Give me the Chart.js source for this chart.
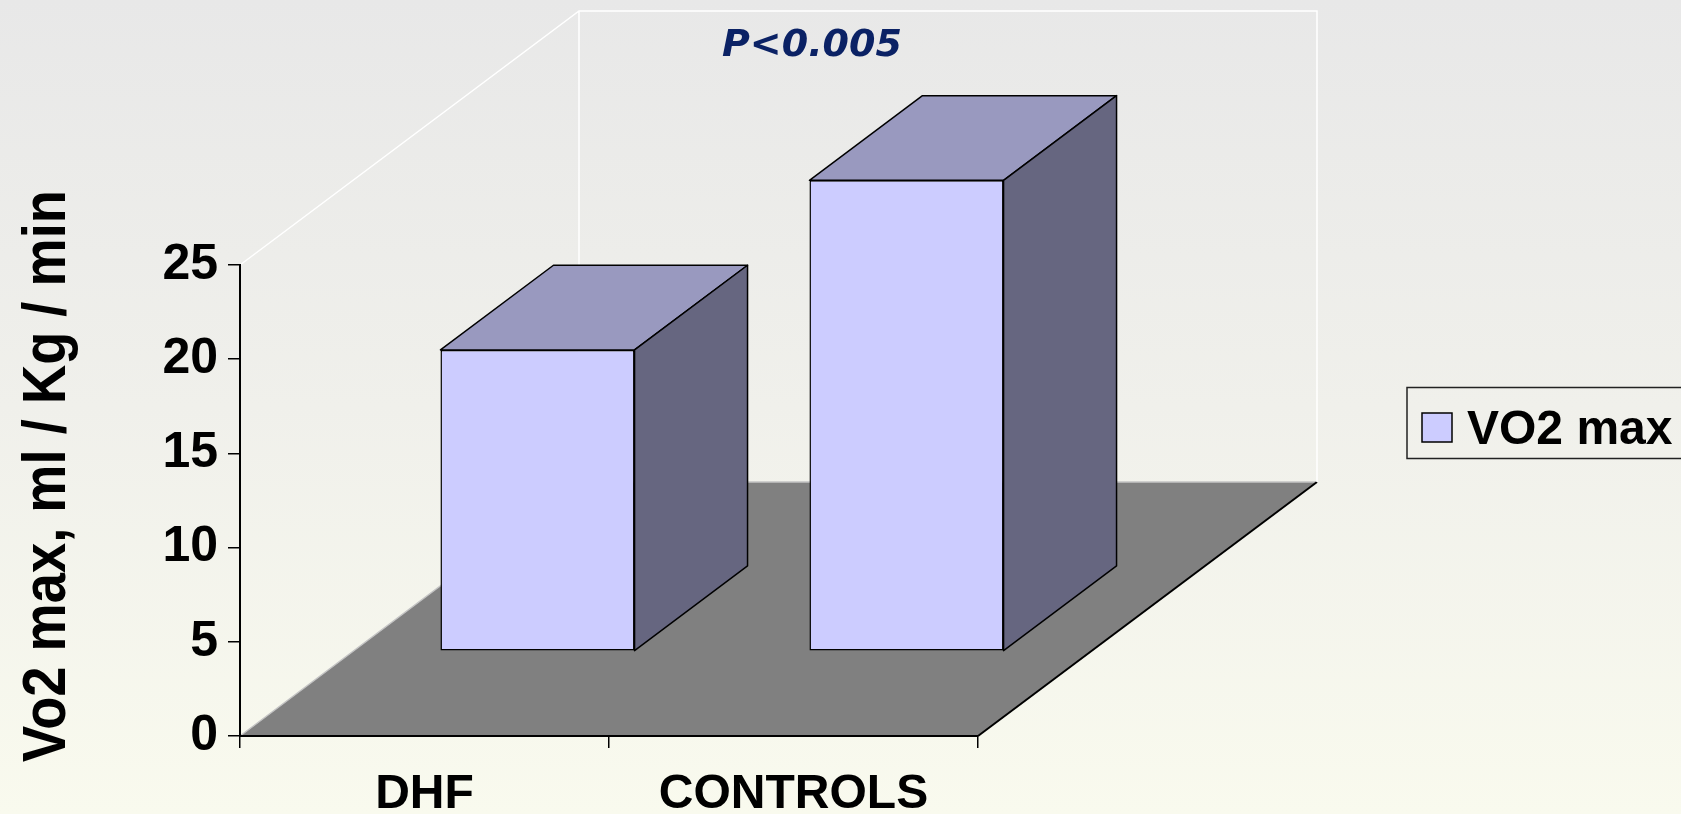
<!DOCTYPE html>
<html>
<head>
<meta charset="utf-8">
<title>VO2 max</title>
<script src="https://cdn.jsdelivr.net/npm/chart.js@4.4.0/dist/chart.umd.min.js"></script>
<style>
    html, body { margin: 0; padding: 0; overflow: hidden; }
    body {
        width: 1681px;
        height: 814px;
        background: linear-gradient(to bottom, #e8e8e8 0%, #f0f0eb 50%, #f9faee 100%);
    }
    canvas { display: block; }
</style>
</head>
<body>
<canvas id="vo2Chart" width="1681" height="814"></canvas>
<script>
const categories = ["DHF", "CONTROLS"];
const vo2Values = [16, 25];
const seriesName = "VO2 max";
const yTicks = [0, 5, 10, 15, 20, 25];
const yTitle = "Vo2 max, ml / Kg / min";
const pNote = "P<0.005";

document.addEventListener("DOMContentLoaded", function () {
    const FONT = '"Liberation Sans", Arial, sans-serif';
    // floor depth in pixels; the bars stand in its middle third
    const DEPTH_X = 339, DEPTH_Y = 254;
    const BAR_FRONT = 1 / 3, BAR_BACK = 2 / 3;
    const FRONT = "#ccccff", TOP = "#9999bf", SIDE = "#666680";

    function face(ctx, pts, fill) {
        ctx.beginPath();
        ctx.moveTo(pts[0][0], pts[0][1]);
        for (let i = 1; i < pts.length; i++) ctx.lineTo(pts[i][0], pts[i][1]);
        ctx.closePath();
        ctx.fillStyle = fill;
        ctx.fill();
        ctx.stroke();
    }

    const box3d = {
        id: "box3d",
        // walls and floor go under everything else
        beforeDraw(chart) {
            const ctx = chart.ctx;
            const { left, right, bottom } = chart.chartArea;
            const top = chart.scales.y.getPixelForValue(yTicks[yTicks.length - 1]);
            ctx.save();
            ctx.beginPath();
            ctx.moveTo(left, bottom);
            ctx.lineTo(right, bottom);
            ctx.lineTo(right + DEPTH_X, bottom - DEPTH_Y);
            ctx.lineTo(left + DEPTH_X, bottom - DEPTH_Y);
            ctx.closePath();
            ctx.fillStyle = "#808080";
            ctx.fill();

            ctx.lineWidth = 1.5;
            ctx.strokeStyle = "#c4c4c4";
            ctx.beginPath();
            ctx.moveTo(left, bottom);
            ctx.lineTo(left + DEPTH_X, bottom - DEPTH_Y);
            ctx.lineTo(right + DEPTH_X, bottom - DEPTH_Y);
            ctx.stroke();

            ctx.strokeStyle = "#000";
            ctx.lineWidth = 2;
            ctx.beginPath();
            ctx.moveTo(right, bottom);
            ctx.lineTo(right + DEPTH_X, bottom - DEPTH_Y);
            ctx.stroke();

            // white edges of side and back walls
            ctx.strokeStyle = "#ffffff";
            ctx.lineWidth = 1.5;
            ctx.beginPath();
            ctx.moveTo(left, top);
            ctx.lineTo(left + DEPTH_X, top - DEPTH_Y);
            ctx.lineTo(right + DEPTH_X, top - DEPTH_Y);
            ctx.lineTo(right + DEPTH_X, bottom - DEPTH_Y);
            ctx.moveTo(left + DEPTH_X, top - DEPTH_Y);
            ctx.lineTo(left + DEPTH_X, bottom - DEPTH_Y);
            ctx.stroke();
            ctx.restore();
        },
        // push the bars back into the floor
        beforeDatasetsDraw(chart) {
            chart.ctx.save();
            chart.ctx.translate(DEPTH_X * BAR_FRONT, -DEPTH_Y * BAR_FRONT);
        },
        afterDatasetsDraw(chart) {
            const ctx = chart.ctx;
            const dx = DEPTH_X * (BAR_BACK - BAR_FRONT);
            const dy = -DEPTH_Y * (BAR_BACK - BAR_FRONT);
            ctx.strokeStyle = "#000";
            ctx.lineWidth = 1.5;
            ctx.lineJoin = "round";
            chart.getDatasetMeta(0).data.forEach(bar => {
                const { x, y, base, width } = bar.getProps(["x", "y", "base", "width"], true);
                const x1 = x - width / 2, x2 = x + width / 2;
                face(ctx, [[x1, y], [x2, y], [x2 + dx, y + dy], [x1 + dx, y + dy]], TOP);
                face(ctx, [[x2, y], [x2 + dx, y + dy], [x2 + dx, base + dy], [x2, base]], SIDE);
            });
            ctx.restore();
        },
        afterDraw(chart) {
            const ctx = chart.ctx;
            ctx.save();

            // rotated axis title, squeezed a little along its length
            ctx.save();
            ctx.translate(65, 476);
            ctx.rotate(-Math.PI / 2);
            ctx.font = "bold 62px " + FONT;
            const tw = ctx.measureText(yTitle).width;
            ctx.scale(572 / tw, 1);
            ctx.fillStyle = "#000";
            ctx.textAlign = "center";
            ctx.textBaseline = "alphabetic";
            ctx.fillText(yTitle, 0, 0);
            ctx.restore();

            // significance note
            ctx.font = 'italic bold 38px "DejaVu Sans", Verdana, sans-serif';
            ctx.fillStyle = "#0b2265";
            ctx.textAlign = "left";
            ctx.textBaseline = "alphabetic";
            ctx.fillText(pNote, 722, 56);

            // legend box running off the right edge
            ctx.strokeStyle = "#222";
            ctx.lineWidth = 1.5;
            ctx.strokeRect(1407, 387.5, 400, 71);
            ctx.fillStyle = chart.data.datasets[0].backgroundColor;
            ctx.fillRect(1422, 413, 30, 29);
            ctx.strokeStyle = "#000";
            ctx.strokeRect(1422, 413, 30, 29);
            ctx.font = "bold 48px " + FONT;
            ctx.fillStyle = "#000";
            ctx.fillText(chart.data.datasets[0].label, 1467, 444);
            ctx.restore();
        }
    };

    const ctx = document.getElementById("vo2Chart").getContext("2d");
    new Chart(ctx, {
        type: "bar",
        data: {
            labels: categories,
            datasets: [{
                label: seriesName,
                data: vo2Values,
                backgroundColor: FRONT,
                borderColor: "#000",
                borderWidth: 1.5,
                borderSkipped: false,
                barPercentage: 0.526,
                categoryPercentage: 1,
                clip: false
            }]
        },
        options: {
            responsive: false,
            animation: false,
            events: [],
            layout: { padding: { left: 0, top: 265, right: 703, bottom: 0 } },
            plugins: {
                legend: { display: false },
                tooltip: { enabled: false }
            },
            scales: {
                x: {
                    offset: true,
                    afterFit: s => { s.height = 78; },
                    grid: { offset: true, drawOnChartArea: false, tickLength: 12, color: "#000", lineWidth: 1.5 },
                    border: { color: "#000", width: 2 },
                    ticks: {
                        color: "#000",
                        padding: 18,
                        font: { family: FONT, size: 48, weight: "bold" }
                    }
                },
                y: {
                    min: yTicks[0],
                    max: yTicks[yTicks.length - 1],
                    afterBuildTicks: s => { s.ticks = yTicks.map(v => ({ value: v })); },
                    afterFit: s => { s.width = 240; },
                    grid: { drawOnChartArea: false, tickLength: 12, color: "#000", lineWidth: 1.5 },
                    border: { color: "#000", width: 2 },
                    ticks: {
                        color: "#000",
                        padding: 10,
                        font: { family: FONT, size: 50, weight: "bold" }
                    }
                }
            }
        },
        plugins: [box3d]
    });
});
</script>
</body>
</html>
